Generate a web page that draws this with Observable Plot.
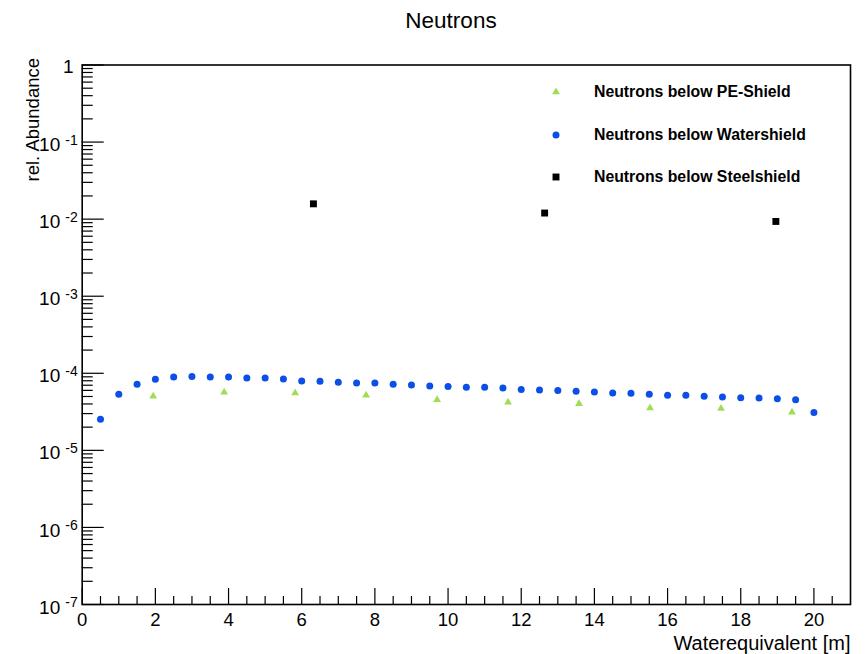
<!DOCTYPE html>
<html><head><meta charset="utf-8">
<script src="https://cdn.jsdelivr.net/npm/d3@7"></script>
<script src="https://cdn.jsdelivr.net/npm/@observablehq/plot@0.6"></script>
<style>
html,body{margin:0;padding:0;background:#fff;}
#wrap{position:relative;width:867px;height:654px;font-family:"Liberation Sans",Arial,Helvetica,sans-serif;color:#000;}
#title{position:absolute;left:0;width:902px;top:8px;text-align:center;font-size:22.5px;line-height:26px;}
#legend{position:absolute;left:548.5px;top:70.75px;}
.row{display:flex;align-items:center;height:42.5px;}
.row svg{width:14px;height:14px;display:block;}
.row span{margin-left:31.5px;font-weight:bold;font-size:15.8px;white-space:nowrap;}
#plot{position:absolute;left:0;top:0;}
</style>
</head><body>
<div id="wrap">
  <div id="plot"></div>
  <div id="title"></div>
  <div id="legend"></div>
</div>
<script>
// ---- texts ----
const titleText = "Neutrons";
const xLabel = "Waterequivalent [m]";
const yLabel = "rel. Abundance";
const seriesNames = ["Neutrons below PE-Shield", "Neutrons below Watershield", "Neutrons below Steelshield"];
const seriesColors = ["#a0dd55", "#0b4fe6", "#000000"];

// ---- tick values / labels ----
const xMajorTicks = [0, 2, 4, 6, 8, 10, 12, 14, 16, 18, 20];
const xTickLabels = ["0", "2", "4", "6", "8", "10", "12", "14", "16", "18", "20"];
const yDecades = [1e-7, 1e-6, 1e-5, 1e-4, 1e-3, 1e-2, 1e-1, 1];
const yExponents = ["-7", "-6", "-5", "-4", "-3", "-2", "-1", ""];

// ---- data ----
const waterX = [0.5, 1, 1.5, 2, 2.5, 3, 3.5, 4, 4.5, 5, 5.5, 6, 6.5, 7, 7.5, 8, 8.5, 9, 9.5, 10,
                10.5, 11, 11.5, 12, 12.5, 13, 13.5, 14, 14.5, 15, 15.5, 16, 16.5, 17, 17.5, 18, 18.5, 19, 19.5, 20];
const waterY = [2.53e-5, 5.33e-5, 7.19e-5, 8.36e-5, 8.95e-5, 9.06e-5, 8.95e-5, 8.95e-5, 8.69e-5, 8.69e-5,
                8.43e-5, 7.94e-5, 7.87e-5, 7.64e-5, 7.48e-5, 7.48e-5, 7.19e-5, 7.05e-5, 6.84e-5, 6.72e-5,
                6.58e-5, 6.58e-5, 6.44e-5, 6.14e-5, 6.07e-5, 5.96e-5, 5.83e-5, 5.71e-5, 5.54e-5, 5.50e-5,
                5.33e-5, 5.18e-5, 5.18e-5, 5.03e-5, 4.92e-5, 4.83e-5, 4.78e-5, 4.69e-5, 4.55e-5, 3.09e-5];
const peX = [1.94, 3.88, 5.82, 7.76, 9.70, 11.64, 13.58, 15.52, 17.46, 19.40];
const peY = [5.03e-5, 5.66e-5, 5.55e-5, 5.18e-5, 4.55e-5, 4.20e-5, 4.04e-5, 3.54e-5, 3.48e-5, 3.12e-5];
const steelX = [6.32, 12.64, 18.96];
const steelY = [0.0158, 0.0120, 0.00933];

// ---- build tables ----
const water = waterX.map((x, i) => ({x, y: waterY[i]}));
const pe = peX.map((x, i) => ({x, y: peY[i]}));
const steel = steelX.map((x, i) => ({x, y: steelY[i]}));
const xMinorTicks = d3.range(0, 41).map(i => i * 0.5 + 0.5).filter(v => v < 21 && !xMajorTicks.includes(v));
const yMinorTicks = yDecades.slice(0, -1).flatMap(d => [2,3,4,5,6,7,8,9].map(m => m * d));
const decadesBelowOne = yDecades.filter(d => d < 1);
const expOf = d => yExponents[yDecades.indexOf(d)];

const font = "Liberation Sans, Arial, Helvetica, sans-serif";
const sym = {pe: "triangle", water: "circle", steel: "square"};
const rr = {pe: 2.9, water: 3.5, steel: 3.9};

const plot = Plot.plot({
  width: 867, height: 654,
  marginLeft: 81.7, marginRight: 17, marginTop: 64.5, marginBottom: 50,
  x: {domain: [0, 21], label: null},
  y: {type: "log", domain: [1e-7, 1], label: null},
  style: {fontFamily: font, color: "black", background: "transparent", overflow: "visible"},
  marks: [
    // x ticks (inward)
    Plot.axisX(xMinorTicks, {anchor: "bottom", tickSize: -8, strokeWidth: 1.2, tickFormat: () => "", label: null}),
    Plot.axisX(xMajorTicks, {anchor: "bottom", tickSize: -16, strokeWidth: 1.2, tickFormat: () => "", label: null}),
    Plot.axisX(xMajorTicks, {anchor: "bottom", tickSize: 0, tickPadding: 8, fontSize: 18.5,
      tickFormat: d => xTickLabels[xMajorTicks.indexOf(d)], label: null}),
    // y ticks (inward)
    Plot.axisY(yMinorTicks, {anchor: "left", tickSize: -11, strokeWidth: 1.2, tickFormat: () => "", label: null}),
    Plot.axisY(yDecades, {anchor: "left", tickSize: -22, strokeWidth: 1.2, tickFormat: () => "", label: null}),
    // y tick labels: base "10" and superscript exponent
    Plot.axisY(decadesBelowOne, {anchor: "left", tickSize: 0, tickPadding: 22, fontSize: 19, dy: 3,
      tickFormat: () => "10", label: null}),
    Plot.axisY(decadesBelowOne, {anchor: "left", tickSize: 0, tickPadding: 4.5, fontSize: 14, dy: -1.5,
      tickFormat: d => expOf(d), label: null}),
    Plot.axisY([1], {anchor: "left", tickSize: 0, tickPadding: 8.5, fontSize: 19, dy: 2,
      tickFormat: () => "1", label: null}),
    Plot.frame({stroke: "black", strokeWidth: 1.6}),
    // data
    Plot.dot(pe, {x: "x", y: "y", symbol: () => sym.pe, r: rr.pe, fill: seriesColors[0], stroke: "none"}),
    Plot.dot(water, {x: "x", y: "y", symbol: () => sym.water, r: rr.water, fill: seriesColors[1], stroke: "none"}),
    Plot.dot(steel, {x: "x", y: "y", symbol: () => sym.steel, r: rr.steel, fill: seriesColors[2], stroke: "none"}),
    // axis titles
    Plot.text([xLabel], {text: d => d, frameAnchor: "bottom-right", textAnchor: "end", dy: 45.5, dx: 0, fontSize: 20}),
    Plot.text([yLabel], {text: d => d, frameAnchor: "top-left", textAnchor: "end", rotate: -90, dx: -56.5, dy: -7, fontSize: 18.5})
  ]
});
document.getElementById("plot").appendChild(plot);
document.getElementById("title").textContent = titleText;

// legend
const legendSymbols = [d3.symbolTriangle, d3.symbolCircle, d3.symbolSquare];
const legendR = [rr.pe, rr.water, rr.steel];
const legend = d3.select("#legend");
seriesNames.forEach((name, i) => {
  const row = legend.append("div").attr("class", "row");
  const svg = row.append("svg").attr("viewBox", "-7 -7 14 14");
  svg.append("path")
    .attr("d", d3.symbol(legendSymbols[i], Math.PI * legendR[i] * legendR[i])())
    .attr("fill", seriesColors[i]);
  row.append("span").text(name);
});
</script>
</body></html>
